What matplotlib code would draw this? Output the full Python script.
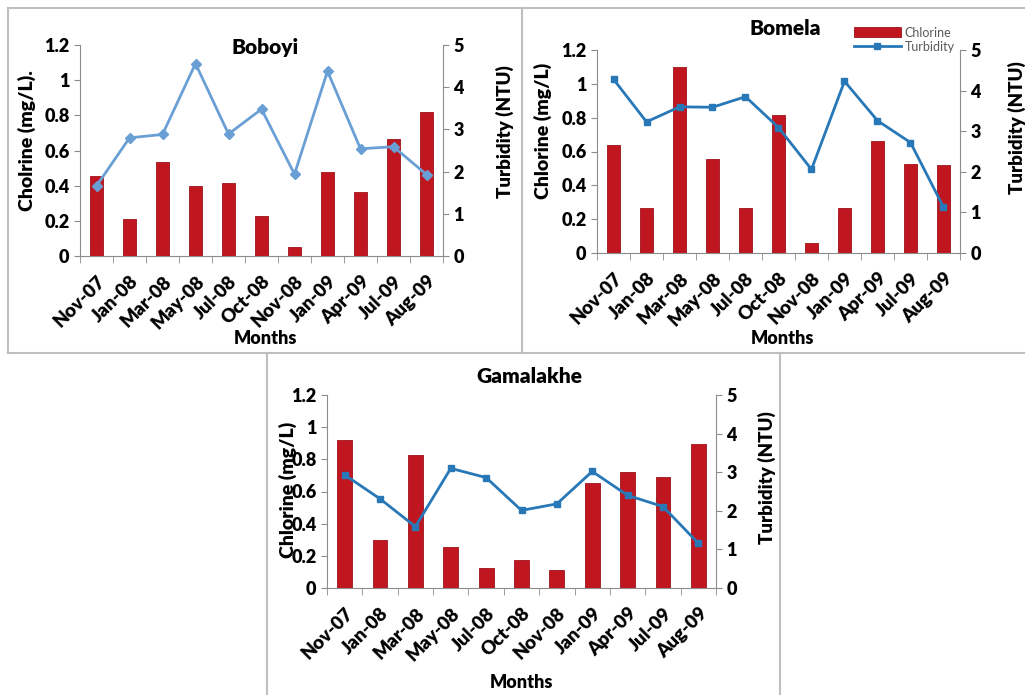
import numpy as np
import matplotlib
matplotlib.use("Agg")
import matplotlib.pyplot as plt
from matplotlib.lines import Line2D

plt.rcParams['font.family'] = ['Lato', 'DejaVu Sans']
plt.rcParams['font.weight'] = 'heavy'

months = ["Nov-07", "Jan-08", "Mar-08", "May-08", "Jul-08", "Oct-08",
          "Nov-08", "Jan-09", "Apr-09", "Jul-09", "Aug-09"]

# chlorine (mg/L) and turbidity (NTU) per site
boboyi_cl = [0.455, 0.21, 0.535, 0.40, 0.415, 0.23, 0.05, 0.48, 0.365, 0.665, 0.82]
boboyi_tu = [1.66, 2.80, 2.88, 4.56, 2.89, 3.48, 1.94, 4.38, 2.54, 2.59, 1.93]

bomela_cl = [0.637, 0.268, 1.10, 0.555, 0.268, 0.815, 0.06, 0.268, 0.66, 0.525, 0.52]
bomela_tu = [4.28, 3.23, 3.60, 3.59, 3.85, 3.09, 2.06, 4.23, 3.26, 2.72, 1.13]

gamalakhe_cl = [0.92, 0.30, 0.83, 0.255, 0.124, 0.172, 0.114, 0.652, 0.724, 0.693, 0.896]
gamalakhe_tu = [2.93, 2.31, 1.59, 3.10, 2.86, 2.01, 2.18, 3.02, 2.40, 2.11, 1.16]

BAR = "#c0161f"
GRID = "#8c8c8c"
W, H = 1025, 695


def px_rect(x0, y0, x1, y1):
    return [x0 / W, 1 - y1 / H, (x1 - x0) / W, (y1 - y0) / H]


def panel(fig, rect, title, cl, tu, ylabel, line_col, marker, coords, legend=False):
    ax = fig.add_axes(rect)
    x = np.arange(len(months))
    bars = ax.bar(x, cl, width=0.42, color=BAR, edgecolor="#9e1218", linewidth=0.6,
                  label="Chlorine", zorder=2)
    ax.set_xlim(-0.5, len(months) - 0.5)
    ax.set_ylim(0, 1.2)
    ax.set_yticks(np.arange(0, 1.21, 0.2))
    ax.set_yticklabels(["0", "0.2", "0.4", "0.6", "0.8", "1", "1.2"])
    ax.set_xticks(x)
    ax.set_xticklabels(months, rotation=45, ha="right", rotation_mode="anchor")
    ax.set_xticks(np.arange(-0.5, len(months)), minor=True)
    ax.tick_params(axis="x", which="major", length=0, labelsize=13.5, pad=12)
    ax.tick_params(axis="x", which="minor", length=5, color=GRID)
    ax.tick_params(axis="y", length=4, color=GRID, labelsize=13)
    for s in ["top", "right"]:
        ax.spines[s].set_visible(False)
    for s in ["left", "bottom"]:
        ax.spines[s].set_color(GRID)

    ax2 = ax.twinx()
    ln, = ax2.plot(x, tu, color=line_col, marker=marker, markersize=5, linewidth=2,
                   label="Turbidity", zorder=3)
    ax2.set_ylim(0, 5)
    ax2.set_yticks(range(6))
    ax2.tick_params(axis="y", length=4, color=GRID, labelsize=13)
    for s in ["top", "left", "bottom"]:
        ax2.spines[s].set_visible(False)
    ax2.spines["right"].set_color(GRID)

    ax.set_ylabel(ylabel, fontsize=14, fontweight="heavy", va="center")
    ax.yaxis.set_label_coords(coords["yl"][0], coords["yl"][1])
    ax2.set_ylabel("Turbidity (NTU)", fontsize=13.5, fontweight="heavy", va="center")
    ax2.yaxis.set_label_coords(coords["yr"][0], coords["yr"][1])
    ax.set_xlabel("Months", fontsize=13, fontweight="heavy", va="center")
    ax.xaxis.set_label_coords(coords["xl"][0], coords["xl"][1])
    ax.text(coords["t"][0], coords["t"][1], title, transform=ax.transAxes,
            ha="center", va="center", fontsize=15, fontweight="heavy")

    if legend:
        leg = ax.legend([bars, ln], ["Chlorine", "Turbidity"], loc="upper right",
                        bbox_to_anchor=(1.0, 1.14), frameon=False, fontsize=9,
                        handlelength=3.8, handleheight=0.9, borderaxespad=0,
                        labelspacing=0.2, handletextpad=0.3)
        for t in leg.get_texts():
            t.set_color("#595959")
            t.set_fontweight("normal")
    return ax


fig = plt.figure(figsize=(W / 100, H / 100), dpi=100)

panel(fig, px_rect(80, 45, 443, 256), "Boboyi", boboyi_cl, boboyi_tu,
      "Cholrine (mg/L).", "#6a9fd6", "D",
      {"yl": (-0.146, 0.545), "yr": (1.171, 0.59), "xl": (0.51, -0.389), "t": (0.51, 0.99)})

panel(fig, px_rect(597, 50, 960, 253), "Bomela", bomela_cl, bomela_tu,
      "Chlorine (mg/L)", "#2878b8", "s",
      {"yl": (-0.149, 0.60), "yr": (1.157, 0.62), "xl": (0.512, -0.419), "t": (0.518, 1.108)},
      legend=True)

panel(fig, px_rect(327, 395, 716, 588), "Gamalakhe", gamalakhe_cl, gamalakhe_tu,
      "Chlorine (mg/L)", "#2878b8", "s",
      {"yl": (-0.10, 0.51), "yr": (1.131, 0.57), "xl": (0.50, -0.49), "t": (0.52, 1.098)})

# panel frames
border = dict(color="#bfbfbf", linewidth=1.5, transform=fig.transFigure)
def hline(y, x0, x1):
    fig.add_artist(Line2D([x0 / W, x1 / W], [1 - y / H, 1 - y / H], **border))
def vline(x, y0, y1):
    fig.add_artist(Line2D([x / W, x / W], [1 - y0 / H, 1 - y1 / H], **border))

hline(8, 8, 1025)
hline(353, 8, 1025)
vline(8, 8, 353)
vline(522, 8, 353)
vline(267, 353, 695)
vline(780, 353, 695)

fig.savefig("out.png", dpi=100)
